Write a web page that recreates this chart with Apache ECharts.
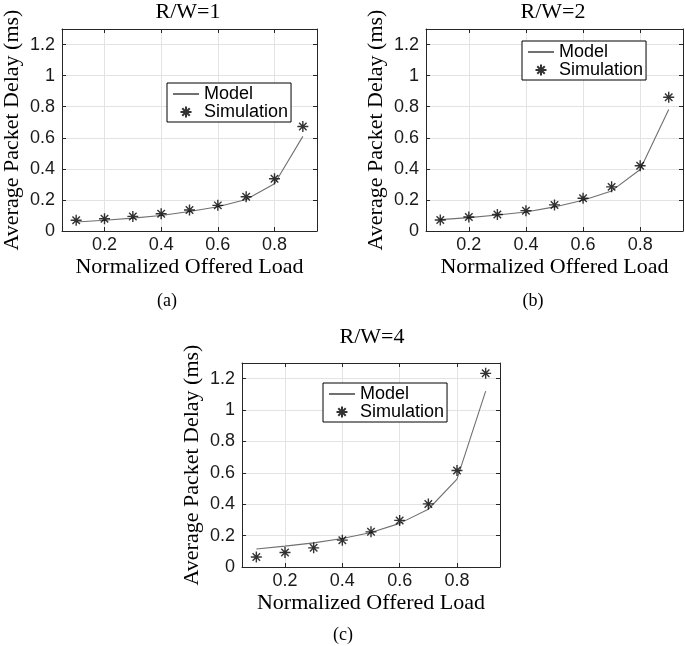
<!DOCTYPE html>
<html>
<head>
<meta charset="utf-8">
<script src="https://cdn.jsdelivr.net/npm/echarts@6/dist/echarts.min.js"></script>
<style>
  html, body { margin: 0; padding: 0; background: #fff; }
  #chart { width: 685px; height: 646px; }
</style>
</head>
<body>
<div id="chart"></div>
<script>
const loads = [0.1, 0.2, 0.3, 0.4, 0.5, 0.6, 0.7, 0.8, 0.9];
const xTicks = [0.2, 0.4, 0.6, 0.8];

const modelRw1 = [0.058, 0.069, 0.083, 0.100, 0.126, 0.156, 0.203, 0.304, 0.609];
const simRw1 = [0.069, 0.079, 0.094, 0.111, 0.135, 0.165, 0.220, 0.336, 0.673];
const modelRw2 = [0.073, 0.086, 0.103, 0.122, 0.155, 0.198, 0.258, 0.396, 0.782];
const simRw2 = [0.071, 0.090, 0.106, 0.131, 0.168, 0.211, 0.284, 0.420, 0.861];
const modelRw4 = [0.115, 0.133, 0.154, 0.182, 0.220, 0.278, 0.368, 0.560, 1.121];
const simRw4 = [0.064, 0.092, 0.122, 0.171, 0.224, 0.297, 0.402, 0.615, 1.234];

const titles = ['R/W=1', 'R/W=2', 'R/W=4'];
const panelLabels = ['(a)', '(b)', '(c)'];

const serif = '"Liberation Serif", "Times New Roman", serif';
const sans = '"Liberation Sans", Arial, sans-serif';
const boxColor = '#262626';
const gridColor = '#e3e3e3';
const starPath = 'path://M5,0L5,10M0,5L10,5M1.6,1.6L8.4,8.4M1.6,8.4L8.4,1.6';

// Layout of the three panels (grid box, title, sub label, legend).
const panels = [
    {model: modelRw1, sim: simRw1, grid: {left: 59, top: 29, width: 258, height: 202},
        title: [188, 12], label: [167, 301], legend: {left: 167, top: 83}},
    {model: modelRw2, sim: simRw2, grid: {left: 426, top: 29, width: 257, height: 202},
        title: [553, 12], label: [533, 301], legend: {left: 522, top: 41}},
    {model: modelRw4, sim: simRw4, grid: {left: 242, top: 363, width: 258, height: 204},
        title: [372, 337], label: [343, 635], legend: {left: 323, top: 383}},
];

const pairs = (ys) => loads.map((x, i) => [x, ys[i]]);

const grids = [];
const xAxes = [];
const yAxes = [];
const series = [];
const legends = [];
const graphics = [];

panels.forEach((p, i) => {
    grids.push(Object.assign({show: false}, p.grid));

    // Bottom axis with labels + mirrored top axis for the box.
    xAxes.push({
        type: 'value', gridIndex: i, min: 0.05, max: 0.95, position: 'bottom',
        name: 'Normalized Offered Load', nameLocation: 'middle', nameGap: 25,
        nameTextStyle: {fontFamily: serif, fontSize: 22, color: '#000'},
        axisLine: {show: true, onZero: false, lineStyle: {color: boxColor, width: 1}},
        axisTick: {show: true, inside: true, length: 4, customValues: xTicks, lineStyle: {color: boxColor}},
        axisLabel: {customValues: xTicks, margin: 5, fontFamily: sans, fontSize: 18, color: '#1a1a1a'},
        splitLine: {show: true, lineStyle: {color: gridColor, width: 1}},
    });
    xAxes.push({
        type: 'value', gridIndex: i, min: 0.05, max: 0.95, position: 'top',
        axisLine: {show: true, onZero: false, lineStyle: {color: boxColor, width: 1}},
        axisTick: {show: true, inside: true, length: 4, customValues: xTicks, lineStyle: {color: boxColor}},
        axisLabel: {show: false},
        splitLine: {show: false},
    });

    yAxes.push({
        type: 'value', gridIndex: i, min: 0, max: 1.3, interval: 0.2, position: 'left',
        name: 'Average Packet Delay (ms)', nameLocation: 'middle', nameGap: 39,
        nameTextStyle: {fontFamily: serif, fontSize: 22, color: '#000'},
        axisLine: {show: true, onZero: false, lineStyle: {color: boxColor, width: 1}},
        axisTick: {show: true, inside: true, length: 4, lineStyle: {color: boxColor}},
        axisLabel: {margin: 7, fontFamily: sans, fontSize: 18, color: '#1a1a1a'},
        splitLine: {show: true, lineStyle: {color: gridColor, width: 1}},
    });
    yAxes.push({
        type: 'value', gridIndex: i, min: 0, max: 1.3, interval: 0.2, position: 'right',
        axisLine: {show: true, onZero: false, lineStyle: {color: boxColor, width: 1}},
        axisTick: {show: true, inside: true, length: 4, lineStyle: {color: boxColor}},
        axisLabel: {show: false},
        splitLine: {show: false},
    });

    series.push({
        name: 'Model', type: 'line', xAxisIndex: 2 * i, yAxisIndex: 2 * i,
        data: pairs(p.model), symbol: 'none', silent: true,
        lineStyle: {color: '#707070', width: 1.1},
        itemStyle: {color: '#707070'},
        z: 3,
    });
    series.push({
        name: 'Simulation', type: 'scatter', xAxisIndex: 2 * i, yAxisIndex: 2 * i,
        data: pairs(p.sim), symbol: starPath, symbolSize: 11, silent: true,
        itemStyle: {color: 'transparent', borderColor: '#000', borderWidth: 1.4},
        z: 4,
    });

    legends.push({
        left: p.legend.left, top: p.legend.top, orient: 'vertical',
        data: [
            {name: 'Model', itemStyle: {opacity: 0}},
            {name: 'Simulation'},
        ],
        backgroundColor: '#fff', borderColor: '#000', borderWidth: 1,
        padding: [2, 3, 1, 5], itemGap: 0, itemWidth: 26, itemHeight: 11,
        selectedMode: false,
        textStyle: {fontFamily: sans, fontSize: 18, lineHeight: 17, color: '#000'},
    });

    graphics.push({
        type: 'text', x: p.title[0], y: p.title[1],
        style: {text: titles[i], fontFamily: serif, fontSize: 22, fill: '#000',
            align: 'center', verticalAlign: 'middle'},
    });
    graphics.push({
        type: 'text', x: p.label[0], y: p.label[1],
        style: {text: panelLabels[i], fontFamily: serif, fontSize: 18, fill: '#000',
            align: 'center', verticalAlign: 'middle'},
    });
});

const chart = echarts.init(document.getElementById('chart'), null, {renderer: 'canvas'});
chart.setOption({
    animation: false,
    backgroundColor: '#fff',
    grid: grids,
    xAxis: xAxes,
    yAxis: yAxes,
    series: series,
    legend: legends,
    graphic: graphics,
});
</script>
</body>
</html>
